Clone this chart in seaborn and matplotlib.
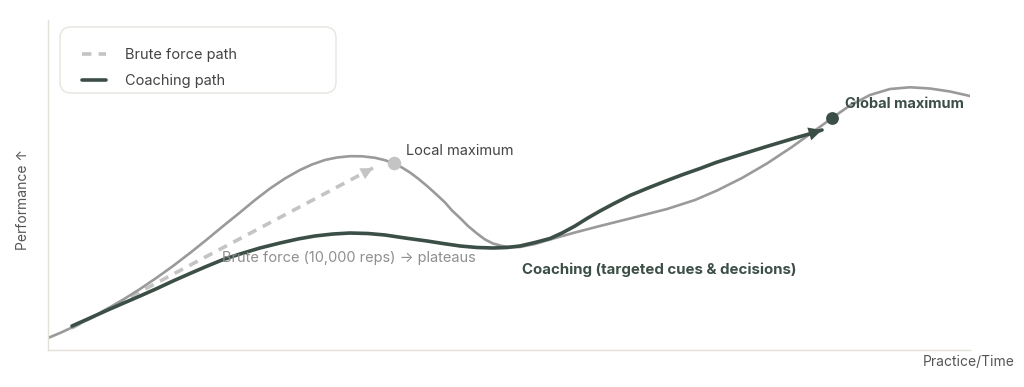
import matplotlib
matplotlib.use("Agg")
import matplotlib.pyplot as plt
from matplotlib.patches import FancyBboxPatch
import seaborn as sns
import pandas as pd

# ---- data ----
landscape_x = [0.0, 1.30, 2.60, 4.56, 6.40, 8.35, 9.98, 11.82, 13.56, 15.40, 17.03, 18.87,
               20.82, 22.45, 24.08, 25.70, 27.33, 28.63, 30.04, 31.34, 32.75, 34.06, 35.47,
               36.55, 37.53, 38.39, 39.26, 40.13, 41.11, 42.08, 43.06, 43.82, 44.69, 45.55,
               46.53, 47.40, 48.26, 49.24, 50.11, 51.19, 52.82, 54.45, 57.16, 59.87, 63.12,
               67.14, 70.17, 72.56, 75.27, 77.98, 80.69, 83.41, 85.03, 86.98, 89.15, 91.32,
               93.49, 95.66, 97.83, 100.0]
landscape_y = [3.64, 5.15, 6.82, 9.55, 12.42, 15.61, 18.48, 21.97, 25.45, 29.39, 33.03,
               37.27, 41.67, 45.45, 48.94, 51.97, 54.55, 56.21, 57.58, 58.33, 58.73, 58.70,
               58.24, 57.52, 56.52, 55.30, 53.79, 51.97, 49.70, 47.27, 44.70, 42.27, 40.00,
               37.58, 35.30, 33.48, 32.27, 31.52, 31.21, 31.21, 32.12, 33.48, 35.61, 37.58,
               39.85, 42.73, 45.45, 48.33, 52.12, 56.52, 61.52, 66.97, 70.30, 74.09, 77.27,
               79.09, 79.61, 79.24, 78.33, 76.97]

coach_x = [2.60, 4.56, 6.72, 8.35, 9.98, 11.82, 13.56, 15.40, 17.03, 18.87, 20.82, 22.99,
           25.16, 27.11, 28.96, 30.91, 32.75, 34.71, 36.55, 38.72, 41.11, 42.84, 44.69,
           46.53, 48.26, 49.78, 51.19, 52.82, 54.45, 55.75, 57.16, 58.46, 59.87, 61.50,
           63.12, 65.08, 67.14, 68.87, 70.72, 72.45, 74.30, 76.03, 77.77, 79.39, 81.02,
           82.54, 83.95]
coach_y = [7.27, 9.70, 12.42, 14.39, 16.36, 18.64, 20.91, 23.18, 25.15, 27.27, 29.09, 30.91,
           32.42, 33.64, 34.55, 35.15, 35.45, 35.30, 34.85, 33.94, 33.03, 32.27, 31.52,
           31.06, 30.91, 31.06, 31.52, 32.58, 33.79, 35.45, 37.58, 39.85, 42.12, 44.55,
           46.82, 49.09, 51.36, 53.18, 55.00, 56.82, 58.48, 60.00, 61.52, 62.88, 64.24,
           65.45, 66.67]

brute_x = [2.60, 35.25]
brute_y = [6.70, 55.15]

local_max = (37.53, 56.52)
global_max = (85.03, 70.30)

labels = ["Brute force path", "Coaching path"]

# ---- style ----
GRAY = "#9a9a9a"
LIGHT = "#c4c4c4"
GREEN = "#3c4f46"
TEXT_DARK = "#444444"
SPINE = "#e3e0da"

sns.set_theme(style="white")
plt.rcParams["font.family"] = ["Inter", "DejaVu Sans"]

fig = plt.figure(figsize=(10.24, 3.87), dpi=100)
ax = fig.add_axes([48 / 1024, 37 / 387, 922 / 1024, 330 / 387])

land = pd.DataFrame({"x": landscape_x, "y": landscape_y})
coach = pd.DataFrame({"x": coach_x, "y": coach_y})
brute = pd.DataFrame({"x": brute_x, "y": brute_y})

sns.lineplot(data=brute, x="x", y="y", ax=ax, color=LIGHT, lw=2.6, sort=False,
             zorder=1, label=labels[0])
ax.lines[-1].set_linestyle((0, (2.6, 2.0)))
sns.lineplot(data=land, x="x", y="y", ax=ax, color=GRAY, lw=1.9, sort=False, zorder=2,
             solid_joinstyle="round", solid_capstyle="round")
sns.lineplot(data=coach, x="x", y="y", ax=ax, color=GREEN, lw=2.6, sort=False,
             zorder=4, label=labels[1], solid_joinstyle="round", solid_capstyle="round")


def head(xs, ys, color, scale):
    x1, y1 = xs[-1], ys[-1]
    x0, y0 = xs[-2], ys[-2]
    f = 0.08 if len(xs) == 2 else 0.6
    ax.annotate("", xy=(x1, y1), xytext=(x1 - (x1 - x0) * f, y1 - (y1 - y0) * f),
                arrowprops=dict(arrowstyle="-|>", color=color, lw=0,
                                mutation_scale=scale, shrinkA=0, shrinkB=0),
                zorder=5)


head(brute_x, brute_y, LIGHT, 22)
head(coach_x, coach_y, GREEN, 24)

ax.scatter([local_max[0]], [local_max[1]], s=95, color=LIGHT, zorder=6, linewidths=0)
ax.scatter([global_max[0]], [global_max[1]], s=85, color=GREEN, zorder=6, linewidths=0)

# text annotations
ax.text(38.8, 60.3, "Local maximum", fontsize=10.5, color=TEXT_DARK, va="center", ha="left")
ax.text(86.4, 74.5, "Global maximum", fontsize=10.5, color=GREEN, fontweight="bold",
        va="center", ha="left", zorder=7)
ax.text(18.9, 27.9, "Brute force (10,000 reps) → plateaus", fontsize=10.5, color="#8f8f8f",
        va="center", ha="left", zorder=7)
ax.text(51.4, 24.2, "Coaching (targeted cues & decisions)", fontsize=10.8, color=GREEN,
        fontweight="bold", va="center", ha="left")

ax.set_xlim(0, 100)
ax.set_ylim(0, 100)
ax.set_xticks([])
ax.set_yticks([])
ax.set_xlabel("")
ax.set_ylabel("Performance ↑", fontsize=10, color="#555555")
ax.yaxis.set_label_coords((30 - 48) / 922, 0.455)
ax.text((1015 - 48) / 922, (350 - 362) / 330, "Practice/Time", transform=ax.transAxes,
        fontsize=10, color="#555555", ha="right", va="center")

for s in ["top", "right"]:
    ax.spines[s].set_visible(False)
for s in ["left", "bottom"]:
    ax.spines[s].set_color(SPINE)
    ax.spines[s].set_linewidth(1.0)

# legend box
bx0, bx1 = (60 - 48) / 922, (336 - 48) / 922
by0, by1 = (350 - 93) / 330, (350 - 27) / 330
box = FancyBboxPatch((bx0, by0), bx1 - bx0, by1 - by0, transform=ax.transAxes,
                     boxstyle="round,pad=0,rounding_size=%f" % (11 / 922),
                     mutation_aspect=922 / 330, facecolor="white", edgecolor="#e6e4de",
                     linewidth=1.0, zorder=8, clip_on=False)
ax.add_patch(box)

leg = ax.legend(loc="upper left", bbox_to_anchor=((82 - 48) / 922, (350 - 48) / 330),
                fontsize=10.5, frameon=False, handlelength=1.65, handletextpad=1.3,
                borderpad=0, labelspacing=0.82, borderaxespad=0)
leg.set_zorder(9)
for t in leg.get_texts():
    t.set_color(TEXT_DARK)

fig.savefig("out.png", dpi=100, facecolor="white")
